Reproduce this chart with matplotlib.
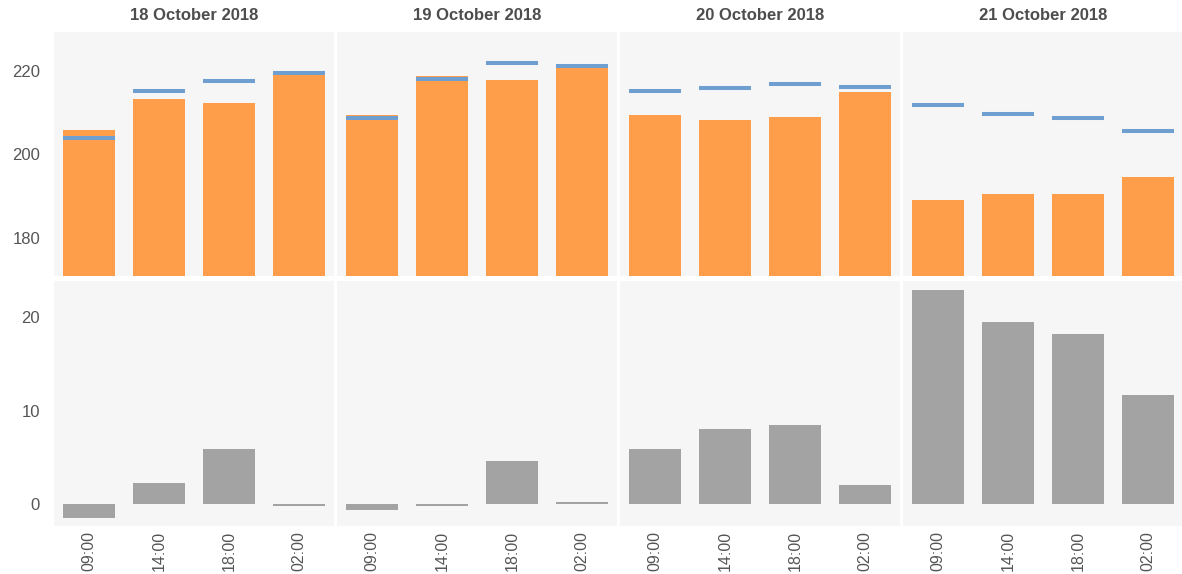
import matplotlib.pyplot as plt
import numpy as np

dates = ["18 October 2018", "19 October 2018", "20 October 2018", "21 October 2018"]
times = ["09:00", "14:00", "18:00", "02:00"]

# orange bars (top row)
actual = [
    [205.8, 213.3, 212.3, 219.2],
    [209.4, 218.8, 217.8, 220.8],
    [209.4, 208.2, 209.0, 215.0],
    [189.0, 190.5, 190.5, 194.5],
]
# blue markers (top row)
target = [
    [203.9, 215.2, 217.6, 219.5],
    [208.8, 218.1, 221.9, 221.3],
    [215.2, 215.9, 216.9, 216.2],
    [211.8, 209.7, 208.7, 205.6],
]
# grey bars (bottom row)
gap = [
    [-1.5, 2.3, 5.9, -0.2],
    [-0.7, -0.2, 4.6, 0.2],
    [5.9, 8.0, 8.5, 2.0],
    [22.9, 19.5, 18.2, 11.7],
]

ORANGE = "#FF9E4A"
BLUE = "#6F9ED0"
GREY = "#A3A3A3"
PANEL = "#F6F6F6"
TEXT = "#555555"

plt.rcParams["font.family"] = ["Liberation Sans", "DejaVu Sans"]

fig = plt.figure(figsize=(11.82, 5.74), dpi=100)
W, H = 1182, 574
lefts = [54, 337, 620, 903]
pw = 280
x = np.arange(len(times))
bw = 0.75

for i, d in enumerate(dates):
    top = fig.add_axes([lefts[i] / W, 1 - 276 / H, pw / W, 244 / H])
    bot = fig.add_axes([lefts[i] / W, 1 - 525.7 / H, pw / W, 244.7 / H])

    top.bar(x, actual[i], width=bw, color=ORANGE, zorder=2)
    top.hlines(target[i], x - bw / 2, x + bw / 2, color=BLUE, linewidth=2.9, zorder=3)
    top.set_ylim(170.8, 229.4)
    top.set_yticks([180, 200, 220])
    top.set_title(d, fontsize=12, fontweight="bold", color="#4D4D4D", pad=9)
    top.set_xticks([])

    bot.bar(x, gap[i], width=bw, color=GREY, zorder=2)
    bot.set_ylim(-2.33, 23.9)
    bot.set_yticks([0, 10, 20])
    bot.set_xticks(x)
    bot.set_xticklabels(times, rotation=90)

    for ax in (top, bot):
        ax.set_xlim(-0.5, 3.5)
        ax.set_facecolor(PANEL)
        for s in ax.spines.values():
            s.set_visible(False)
        ax.tick_params(length=0, colors=TEXT, labelsize=12, pad=10)
        if i > 0:
            ax.tick_params(labelleft=False)
    bot.tick_params(axis="x", labelsize=11.5, pad=4)

fig.savefig("out.png", dpi=100)
